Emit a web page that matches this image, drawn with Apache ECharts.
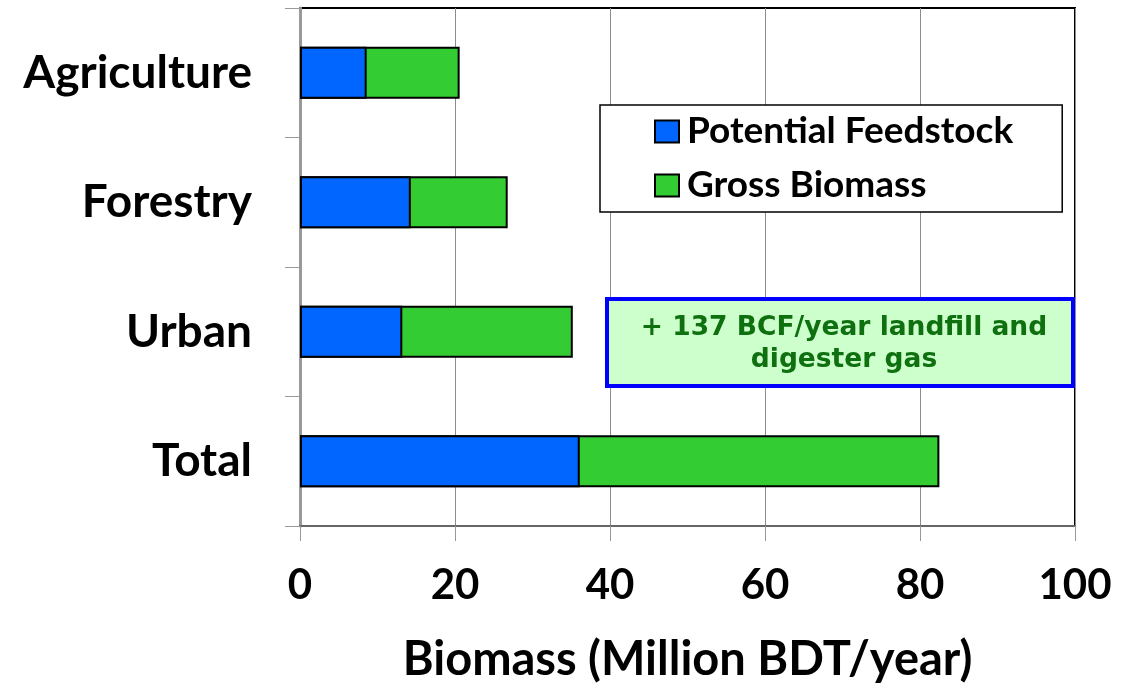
<!DOCTYPE html>
<html>
<head>
<meta charset="utf-8">
<script src="https://cdn.jsdelivr.net/npm/echarts@6/dist/echarts.min.js"></script>
<style>
  html, body { margin: 0; padding: 0; background: #fff; }
  #chart { width: 1127px; height: 688px; }
</style>
</head>
<body>
<div id="chart"></div>
<script>
// categories, top to bottom
var categories = ['Agriculture', 'Forestry', 'Urban', 'Total'];
// Million BDT/year
var potentialFeedstock = [8.6, 14.3, 13.2, 36.1];
var grossBiomass = [20.6, 26.8, 35.2, 82.5];
var xTicks = [0, 20, 40, 60, 80, 100];
var noteLines = ['+ 137 BCF/year landfill and', 'digester gas'];

var FONT = 'Lato';
var chart = echarts.init(document.getElementById('chart'), null, { renderer: 'canvas' });

var option = {
  backgroundColor: '#fff',
  animation: false,
  textStyle: { fontFamily: FONT },
  grid: {
    left: 300, right: 52, top: 8, bottom: 159,
    show: true,
    borderColor: '#000',
    borderWidth: 2,
    backgroundColor: 'transparent'
  },
  legend: {
    data: ['Potential Feedstock', 'Gross Biomass'],
    orient: 'vertical',
    left: 600,
    top: 105,
    padding: [8, 49, 8, 54],
    itemGap: 17,
    itemWidth: 24,
    itemHeight: 22,
    icon: 'rect',
    backgroundColor: '#fff',
    borderColor: '#000',
    borderWidth: 1.5,
    textStyle: { fontFamily: FONT, fontWeight: 'bold', fontSize: 37, color: '#000', padding: [0, 0, 0, 3] }
  },
  xAxis: {
    type: 'value',
    min: xTicks[0],
    max: xTicks[xTicks.length - 1],
    interval: 20,
    name: 'Biomass (Million BDT/year)',
    nameLocation: 'middle',
    nameGap: 110,
    nameTextStyle: { fontFamily: FONT, fontWeight: 'bold', fontSize: 47, color: '#000' },
    axisLine: { show: true, lineStyle: { color: '#666', width: 2 } },
    axisTick: { show: true, length: 15, lineStyle: { color: '#999', width: 1 } },
    axisLabel: { margin: 38, fontFamily: FONT, fontWeight: 'bold', fontSize: 42, color: '#000' },
    splitLine: { show: true, lineStyle: { color: '#8c8c8c', width: 1 } }
  },
  yAxis: {
    type: 'category',
    data: categories,
    inverse: true,
    axisLine: { show: true, lineStyle: { color: '#999', width: 3 } },
    axisTick: { show: true, length: 15, lineStyle: { color: '#999', width: 1 } },
    axisLabel: { margin: 48, fontFamily: FONT, fontWeight: 'bold', fontSize: 46, color: '#000' }
  },
  series: [
    {
      name: 'Gross Biomass',
      type: 'bar',
      data: grossBiomass,
      barWidth: '40%',
      barGap: '-100%',
      itemStyle: { color: '#33CC33', borderColor: '#000', borderWidth: 2 }
    },
    {
      name: 'Potential Feedstock',
      type: 'bar',
      data: potentialFeedstock,
      barWidth: '40%',
      barGap: '-100%',
      itemStyle: { color: '#0066FF', borderColor: '#000', borderWidth: 2 }
    }
  ],
  graphic: [
    {
      type: 'rect',
      x: 607, y: 299,
      shape: { width: 466, height: 87 },
      style: { fill: '#CCFFCC', stroke: '#0000FF', lineWidth: 4 },
      z: 100
    },
    {
      type: 'text',
      x: 844, y: 312,
      style: {
        text: noteLines.join('\n'),
        textAlign: 'center',
        textVerticalAlign: 'top',
        font: 'bold 26.5px "DejaVu Sans"',
        fill: '#0f700f',
        lineHeight: 32
      },
      z: 101
    }
  ]
};

chart.setOption(option);
</script>
</body>
</html>
